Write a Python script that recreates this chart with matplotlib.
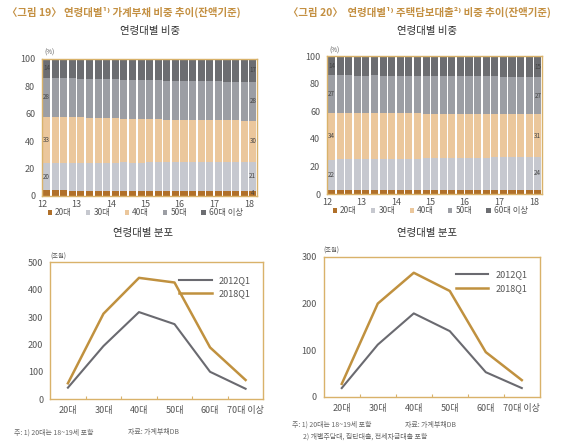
import numpy as np
import matplotlib
matplotlib.use('Agg')
import matplotlib.pyplot as plt

plt.rcParams['font.family'] = ['Noto Sans CJK KR', 'DejaVu Sans']

# Bar chart data: 2012Q1 ~ 2018Q1 (quarterly), share by age group (%)
quarters = list(range(25))
year_ticks = ['12', '13', '14', '15', '16', '17', '18']
age_groups = ['20대', '30대', '40대', '50대', '60대 이상']

# 그림 19: household debt
hh_20 = [3.9, 3.9, 3.9, 3.8, 3.8, 3.8, 3.7, 3.7, 3.7, 3.7, 3.6, 3.6, 3.6, 3.6, 3.6, 3.5, 3.5, 3.5, 3.5, 3.5, 3.5, 3.5, 3.5, 3.5, 3.5]
hh_30 = [20.3, 20.4, 20.4, 20.5, 20.5, 20.5, 20.6, 20.6, 20.6, 20.7, 20.7, 20.7, 20.8, 20.8, 20.8, 20.9, 20.9, 20.9, 21.0, 21.0, 21.0, 21.1, 21.1, 21.1, 21.2]
hh_40 = [33.6, 33.4, 33.2, 33.0, 32.9, 32.7, 32.5, 32.3, 32.2, 32.0, 31.9, 31.7, 31.6, 31.4, 31.3, 31.2, 31.0, 30.9, 30.8, 30.7, 30.6, 30.5, 30.4, 30.3, 30.2]
hh_50 = [28.3, 28.3, 28.4, 28.4, 28.4, 28.5, 28.5, 28.5, 28.5, 28.5, 28.5, 28.5, 28.5, 28.5, 28.5, 28.4, 28.4, 28.4, 28.4, 28.4, 28.4, 28.3, 28.3, 28.3, 28.3]
hh_60 = [13.9, 14.0, 14.1, 14.3, 14.4, 14.5, 14.7, 14.9, 15.0, 15.1, 15.3, 15.5, 15.5, 15.7, 15.8, 16.0, 16.2, 16.3, 16.3, 16.4, 16.5, 16.6, 16.7, 16.8, 16.8]

# 그림 20: mortgage loans
mg_20 = [3.0, 3.0, 3.0, 3.0, 3.0, 3.0, 2.9, 2.9, 2.9, 2.9, 2.9, 2.9, 2.9, 2.9, 2.9, 2.9, 2.9, 2.9, 2.9, 2.9, 2.9, 2.9, 2.9, 2.9, 2.9]
mg_30 = [22.0, 22.1, 22.2, 22.2, 22.3, 22.4, 22.5, 22.6, 22.7, 22.8, 22.8, 22.9, 23.0, 23.1, 23.2, 23.3, 23.4, 23.4, 23.5, 23.6, 23.7, 23.8, 23.9, 23.9, 24.0]
mg_40 = [34.0, 33.9, 33.8, 33.6, 33.5, 33.4, 33.2, 33.1, 33.0, 32.9, 32.8, 32.6, 32.5, 32.4, 32.2, 32.1, 32.0, 31.9, 31.8, 31.6, 31.5, 31.4, 31.2, 31.1, 31.0]
mg_50 = [27.0, 27.0, 27.1, 27.1, 27.1, 27.2, 27.2, 27.2, 27.2, 27.3, 27.3, 27.3, 27.3, 27.3, 27.3, 27.3, 27.2, 27.2, 27.2, 27.2, 27.1, 27.1, 27.1, 27.0, 27.0]
mg_60 = [14.0, 14.0, 13.9, 14.1, 14.1, 14.0, 14.2, 14.2, 14.2, 14.1, 14.2, 14.3, 14.3, 14.3, 14.4, 14.4, 14.5, 14.6, 14.6, 14.7, 14.8, 14.8, 14.9, 15.1, 15.1]

# Line chart data: amount by age group (조원)
line_cats = ['20대', '30대', '40대', '50대', '60대', '70대 이상']
hh_2012 = [42, 194, 318, 274, 100, 38]
hh_2018 = [58, 312, 443, 426, 189, 70]
mg_2012 = [19, 112, 179, 141, 53, 19]
mg_2018 = [28, 200, 266, 227, 96, 36]

# Colours
c20 = '#b0702a'
c30 = '#c6c8cf'
c40 = '#ebc79c'
c50 = '#9c9ea4'
c60 = '#6c6d71'
frame = '#d9b26a'
gold_text = '#c49042'
tick_col = '#555555'
line12 = '#6a6a70'
line18 = '#c0913f'

fig = plt.figure(figsize=(5.7, 4.46), dpi=100)
fig.patch.set_facecolor('white')


def style_frame(ax):
    for s in ax.spines.values():
        s.set_color(frame)
        s.set_linewidth(1.0)
    ax.tick_params(colors=tick_col, labelsize=6.5, length=0)
    ax.tick_params(axis='y', pad=5)
    ax.tick_params(axis='x', pad=3)


def bar_panel(rect, series, first_lab, last_lab):
    ax = fig.add_axes(rect)
    bottom = np.zeros(len(quarters))
    cols = [c20, c30, c40, c50, c60]
    for vals, col, name in zip(series, cols, age_groups):
        ax.bar(quarters, vals, bottom=bottom, width=0.82, color=col,
               label=name, edgecolor='none')
        bottom = bottom + np.array(vals)
    # value labels on first and last bars
    for idx, labs in ((0, first_lab), (len(quarters) - 1, last_lab)):
        base = 0
        for k, vals in enumerate(series):
            v = vals[idx]
            if labs[k]:
                ax.text(quarters[idx], base + v / 2, labs[k], ha='center',
                        va='center', fontsize=4.5, color='#444444')
            base += v
    ax.set_xlim(-0.5, 24.5)
    ax.set_ylim(0, 100)
    ax.set_xticks([-0.5 + 4 * k for k in range(6)] + [23.6])
    ax.set_xticklabels(year_ticks)
    ax.set_yticks(range(0, 101, 20))
    style_frame(ax)
    ax.text(-0.3, 101.5, '(%)', fontsize=4.5, color=tick_col, va='bottom')
    ax.legend(loc='upper center', bbox_to_anchor=(0.48, -0.035), ncol=5,
              frameon=False, fontsize=6, handlelength=0.5, handleheight=0.5,
              columnspacing=1.7, handletextpad=0.4, labelcolor=tick_col)
    return ax


def line_panel(rect, v12, v18, ymax, ystep):
    ax = fig.add_axes(rect)
    x = np.arange(len(line_cats))
    ax.plot(x, v12, color=line12, lw=1.5, label='2012Q1')
    ax.plot(x, v18, color=line18, lw=1.8, label='2018Q1')
    ax.set_xlim(-0.5, 5.5)
    ax.set_ylim(0, ymax)
    ax.set_xticks(x)
    ax.set_xticklabels(line_cats)
    ax.set_xticks(np.arange(0.5, 5, 1), minor=True)
    ax.tick_params(axis='x', which='minor', length=2.5, direction='in',
                   color=frame, width=0.8)
    ax.set_yticks(range(0, ymax + 1, ystep))
    style_frame(ax)
    ax.tick_params(axis='x', which='major', pad=5)
    ax.text(0.0, 1.015, '(조원)', transform=ax.transAxes, fontsize=4.5,
            color=tick_col, va='bottom')
    ax.legend(loc='upper right', bbox_to_anchor=(0.98, 0.96), frameon=False,
              fontsize=6.5, handlelength=3.6, labelspacing=0.5,
              labelcolor=tick_col)
    return ax


bar_panel([0.074, 0.561, 0.377, 0.307], [hh_20, hh_30, hh_40, hh_50, hh_60],
          ['', '20', '33', '28', '14'], ['4', '21', '30', '28', '17'])
bar_panel([0.574, 0.565, 0.377, 0.309], [mg_20, mg_30, mg_40, mg_50, mg_60],
          ['', '22', '34', '27', '14'], ['', '24', '31', '27', '15'])
line_panel([0.088, 0.105, 0.374, 0.307], hh_2012, hh_2018, 500, 100)
line_panel([0.568, 0.110, 0.379, 0.314], mg_2012, mg_2018, 300, 100)

# Headers and panel titles
fig.text(0.012, 0.972, '〈그림 19〉 연령대별¹⁾ 가계부채 비중 추이(잔액기준)',
         fontsize=7.5, color=gold_text, va='center', fontweight='bold')
fig.text(0.505, 0.972, '〈그림 20〉  연령대별¹⁾ 주택담보대출²⁾ 비중 추이(잔액기준)',
         fontsize=7.5, color=gold_text, va='center', fontweight='bold')
fig.text(0.263, 0.930, '연령대별 비중', fontsize=7.5, color='#333333', ha='center', va='center')
fig.text(0.75, 0.930, '연령대별 비중', fontsize=7.5, color='#333333', ha='center', va='center')
fig.text(0.251, 0.477, '연령대별 분포', fontsize=7.5, color='#333333', ha='center', va='center')
fig.text(0.75, 0.477, '연령대별 분포', fontsize=7.5, color='#333333', ha='center', va='center')

# Footnotes
fig.text(0.025, 0.031, '주: 1) 20대는 18~19세 포함', fontsize=5, color='#666666', va='center')
fig.text(0.225, 0.031, '자료: 가계부채DB', fontsize=5, color='#666666', va='center')
fig.text(0.512, 0.047, '주: 1) 20대는 18~19세 포함', fontsize=5, color='#666666', va='center')
fig.text(0.710, 0.047, '자료: 가계부채DB', fontsize=5, color='#666666', va='center')
fig.text(0.532, 0.020, '2) 개별주담대, 집단대출, 전세자금대출 포함', fontsize=5, color='#666666', va='center')

fig.savefig('out.png', dpi=100)
